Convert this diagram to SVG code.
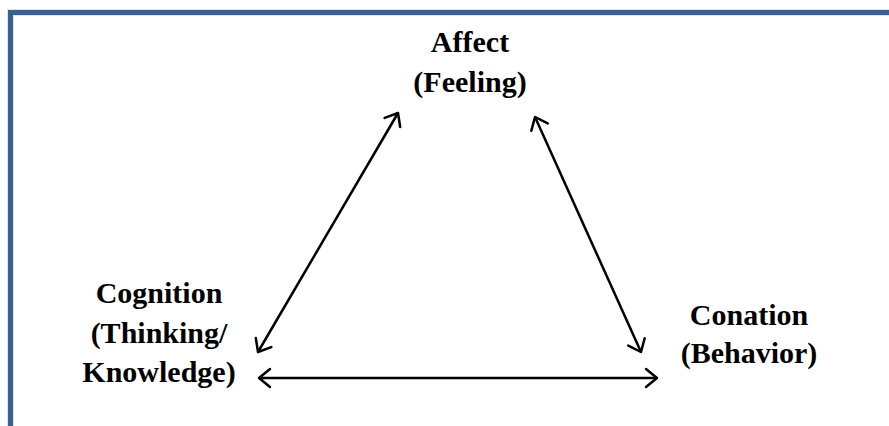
<svg xmlns="http://www.w3.org/2000/svg" width="889" height="426" viewBox="0 0 889 426">
<style>
.lbl{font-family:"Liberation Serif","Times New Roman",serif;font-weight:bold;font-size:30px;fill:#000;text-anchor:middle}
.conn{stroke:#000;stroke-width:2.5;fill:none;marker-start:url(#ah);marker-end:url(#ah)}
</style>
<defs>
<marker id="ah" markerUnits="userSpaceOnUse" markerWidth="30" markerHeight="30" refX="15" refY="15" orient="auto-start-reverse" viewBox="0 0 30 30">
<path d="M4,6 L15,15 L4,24" fill="none" stroke="#000" stroke-width="2.5" stroke-linecap="round" stroke-linejoin="round"/>
</marker>
</defs>
<rect width="889" height="426" fill="#fff"/>
<path d="M10.5,430 V12.5 H895" fill="none" stroke="#dce4ee" stroke-width="7"/>
<path d="M10.5,430 V12.5 H895" fill="none" stroke="#3b5f8f" stroke-width="5"/>
<g id="affect"><text class="lbl" x="470" y="52">Affect</text><text class="lbl" x="470" y="92">(Feeling)</text></g>
<g id="cognition"><text class="lbl" x="159" y="303">Cognition</text><text class="lbl" x="159" y="343">(Thinking/</text><text class="lbl" x="159" y="382">Knowledge)</text></g>
<g id="conation"><text class="lbl" x="749" y="325">Conation</text><text class="lbl" x="749" y="363">(Behavior)</text></g>
<g id="connectors">
<line class="conn" x1="258" y1="352" x2="398" y2="113"/>
<line class="conn" x1="535" y1="117" x2="641" y2="352"/>
<line class="conn" x1="259" y1="378" x2="657" y2="378"/>
</g>
</svg>
